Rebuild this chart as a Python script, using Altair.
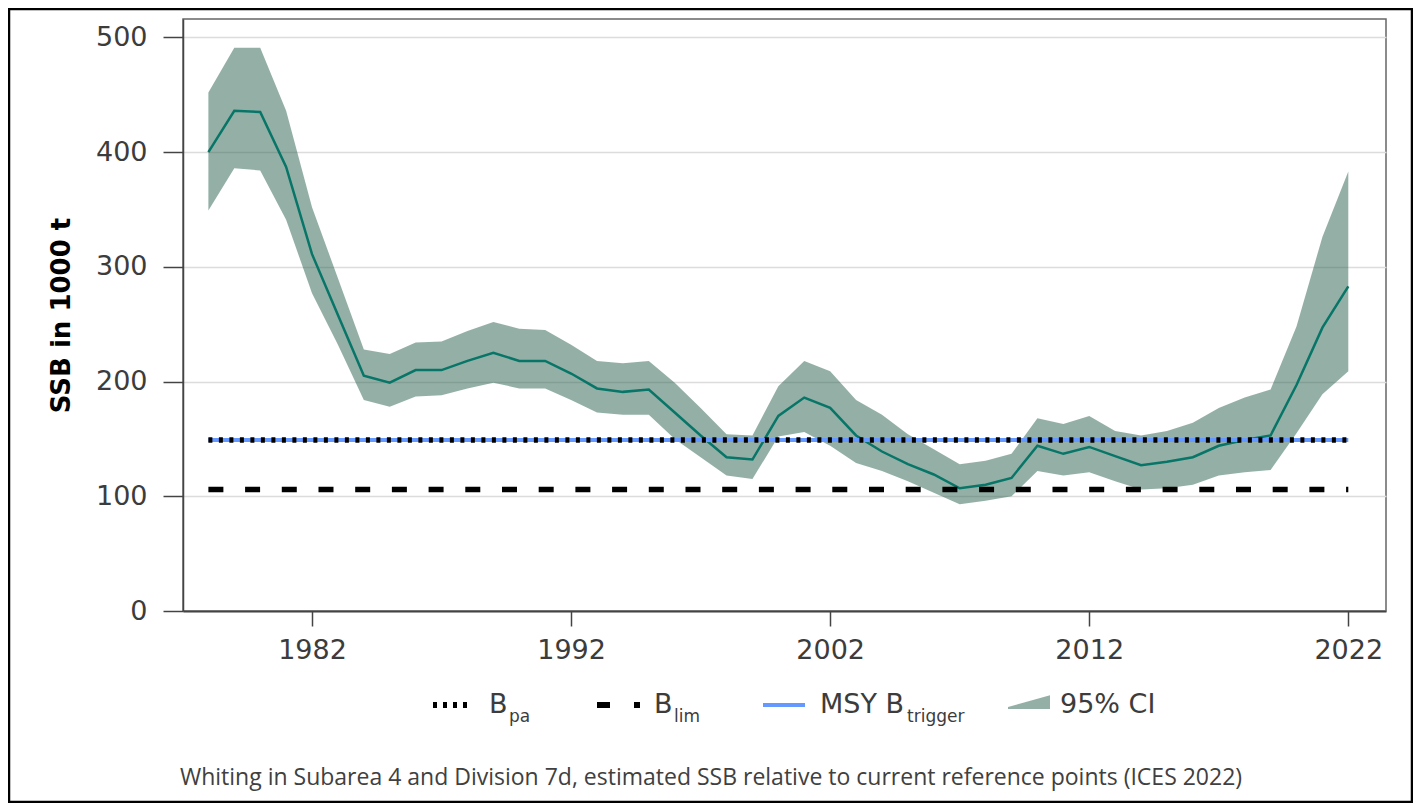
import altair as alt
import pandas as pd

# ---------------- data ----------------
years = list(range(1978, 2023))
ssb = [400, 436, 435, 387, 311, 258, 205, 199, 210, 210, 218, 225, 218, 218, 207,
       194, 191, 193, 173, 153, 134, 132, 170, 186, 177, 153, 139, 128, 119, 107,
       110, 116, 144, 137, 143, 135, 127, 130, 134, 144, 149, 153, 197, 247, 283]
ci_high = [452, 491, 491, 436, 352, 290, 228, 224, 234, 235, 244, 252, 246, 245, 232,
           218, 216, 218, 199, 177, 154, 153, 196, 218, 209, 184, 171, 154, 141, 128,
           131, 137, 168, 163, 170, 157, 153, 157, 164, 177, 186, 193, 248, 326, 383]
ci_low = [349, 386, 384, 341, 277, 232, 184, 178, 187, 188, 194, 199, 194, 194, 184,
          173, 171, 171, 150, 134, 118, 115, 152, 156, 144, 129, 122, 113, 103, 93,
          96, 100, 122, 118, 121, 113, 106, 107, 110, 118, 121, 123, 155, 189, 209]

ref_years = [1978, 2022]
B_PA = 149
B_LIM = 106
MSY_BTRIGGER = 149

x_ticks = [1982, 1992, 2002, 2012, 2022]
y_ticks = [0, 100, 200, 300, 400, 500]
y_title = "SSB in 1000 t"
caption = ("Whiting in Subarea 4 and Division 7d, estimated SSB relative to "
           "current reference points (ICES 2022)")

df = pd.DataFrame({"year": years, "ssb": ssb, "low": ci_low, "high": ci_high})
ref = pd.DataFrame({"year": ref_years,
                    "bpa": [B_PA] * 2, "blim": [B_LIM] * 2, "msy": [MSY_BTRIGGER] * 2})
one = pd.DataFrame({"k": [0]})

# ---------------- styling ----------------
W, H = 1203, 592
FONT = "DejaVu Sans"
TEAL = "#077567"
BAND = "#29614D"
BLUE = "#6699FF"

x_scale = alt.Scale(domain=[1977.02, 2023.455], nice=False, zero=False)
y_scale = alt.Scale(domain=[0, 516], nice=False)

x_axis = alt.Axis(values=x_ticks, format="d", title=None, grid=False,
                  tickSize=15, labelPadding=11, labelFontSize=27, labelFont=FONT,
                  labelColor="#3c3c3c", domainColor="#444", domainWidth=2,
                  tickColor="#444", tickWidth=1.5, labelFlush=False)
y_axis = alt.Axis(values=y_ticks, title=y_title, grid=True, gridColor="#dcdcdc",
                  gridWidth=1.5, tickSize=20, labelPadding=16, labelFontSize=27,
                  labelFont=FONT, labelColor="#3c3c3c", domainColor="#444",
                  domainWidth=1.5, tickColor="#444", tickWidth=1.5,
                  titleFont=FONT, titleFontSize=26, titleFontWeight="bold",
                  titleColor="black", titlePadding=21)

area = alt.Chart(df).mark_area(color=BAND, opacity=0.5).encode(
    x=alt.X("year:Q", scale=x_scale, axis=x_axis),
    y=alt.Y("low:Q", scale=y_scale, axis=y_axis),
    y2="high:Q",
)
line = alt.Chart(df).mark_line(color=TEAL, strokeWidth=2.5).encode(
    x="year:Q", y="ssb:Q")

blue = alt.Chart(ref).mark_line(color=BLUE, strokeWidth=4).encode(
    x="year:Q", y="msy:Q")
dotted = alt.Chart(ref).mark_line(color="black", strokeWidth=5.5,
                                  strokeDash=[4, 6.5]).encode(x="year:Q", y="bpa:Q")
dashed = alt.Chart(ref).mark_line(color="black", strokeWidth=5.5,
                                  strokeDash=[15, 21.7]).encode(x="year:Q", y="blim:Q")


def text_at(txt, x, y, size, color="#3c3c3c", font=FONT, align="left"):
    d = pd.DataFrame({"label": [txt]})
    return alt.Chart(d).mark_text(font=font, fontSize=size, color=color,
                                  align=align, baseline="alphabetic").encode(
        x=alt.value(x), y=alt.value(y), text="label:N")


LY = 686      # legend symbol centre line
LB = 694      # legend text baseline
SB = 703      # subscript baseline

leg_pa_sym = alt.Chart(one).mark_rule(color="black", strokeWidth=6,
                                      strokeDash=[4, 6]).encode(
    x=alt.value(250), x2=alt.value(287), y=alt.value(LY))
leg_lim_sym = alt.Chart(one).mark_rule(color="black", strokeWidth=6,
                                       strokeDash=[13, 24]).encode(
    x=alt.value(414), x2=alt.value(457), y=alt.value(LY))
leg_msy_sym = alt.Chart(one).mark_rule(color=BLUE, strokeWidth=4).encode(
    x=alt.value(580), x2=alt.value(622), y=alt.value(LY))
leg_ci_sym = alt.Chart(one).mark_point(
    shape="M -1 0.2 L 1 -0.35 L 1 0.3 L -1 0.3 Z", filled=True, size=1764,
    color=BAND, opacity=0.5).encode(x=alt.value(846), y=alt.value(683.7))

legend_texts = [
    text_at("B", 306, LB, 27), text_at("pa", 326, SB, 17),
    text_at("B", 471, LB, 27), text_at("lim", 491, SB, 17),
    text_at("MSY B", 637, LB, 27), text_at("trigger", 724, SB, 17),
    text_at("95% CI", 877, LB, 27),
]

cap = text_at(caption, 528, 766, 23, color="#404040", font="Open Sans",
              align="center")

border = alt.Chart(one).mark_rect(fillOpacity=0, stroke="black",
                                  strokeWidth=2.5).encode(
    x=alt.value(-174), x2=alt.value(1229), y=alt.value(-10), y2=alt.value(783))

chart = alt.layer(
    area, line, blue, dotted, dashed,
    leg_pa_sym, leg_lim_sym, leg_msy_sym, leg_ci_sym, *legend_texts, cap, border
).properties(
    width=W, height=H,
    padding={"left": 175, "top": 11, "right": 27, "bottom": 192},
    autosize=alt.AutoSizeParams(type="none"),
    background="white",
).configure_view(stroke="#666", strokeWidth=1.5)

chart.save("out.html", embed_options={"renderer": "svg", "actions": False})
